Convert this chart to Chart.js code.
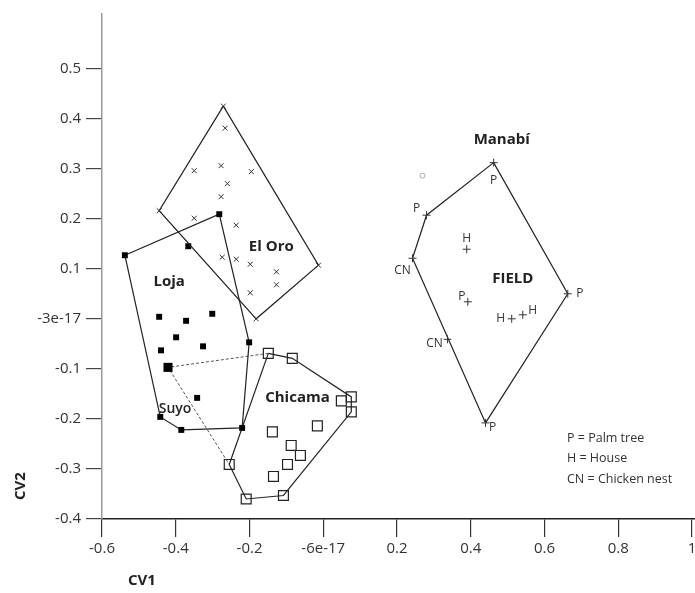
<!DOCTYPE html>
<html>
<head>
<meta charset="utf-8">
<script src="https://cdn.jsdelivr.net/npm/chart.js@4.4.0/dist/chart.umd.min.js"></script>
<style>
  body { margin: 0; background: #fff; }
  #wrap { width: 695px; height: 593px; }
</style>
</head>
<body>
<div id="wrap"><canvas id="cv"></canvas></div>
<script>
// CV scores, one pair of arrays per group
const elOroX = [-0.271, -0.266, -0.350, -0.277, -0.195, -0.260, -0.277, -0.445, -0.350, -0.236, -0.274, -0.236, -0.198, -0.127, -0.127, -0.198, -0.013, -0.182];
const elOroY = [0.425, 0.381, 0.296, 0.306, 0.294, 0.270, 0.244, 0.216, 0.201, 0.187, 0.123, 0.119, 0.109, 0.094, 0.068, 0.052, 0.107, 0.000];
const elOroHull = [0, 16, 17, 7, 0];

const lojaX = [-0.282, -0.366, -0.538, -0.445, -0.372, -0.301, -0.399, -0.326, -0.440, -0.201, -0.342, -0.442, -0.385, -0.220];
const lojaY = [0.209, 0.145, 0.127, 0.004, -0.004, 0.010, -0.037, -0.055, -0.063, -0.047, -0.158, -0.196, -0.222, -0.218];
const lojaHull = [2, 0, 9, 13, 12, 11, 2];

const suyoX = [-0.421];
const suyoY = [-0.097];

const chicamaX = [-0.149, -0.084, 0.076, 0.049, 0.076, -0.016, -0.138, -0.087, -0.062, -0.097, -0.135, -0.108, -0.209, -0.255];
const chicamaY = [-0.069, -0.079, -0.156, -0.164, -0.186, -0.214, -0.226, -0.253, -0.273, -0.291, -0.315, -0.353, -0.360, -0.291];
const chicamaHull = [0, 1, 2, 4, 11, 12, 13, 0];

const manabiX = [0.462, 0.280, 0.389, 0.242, 0.392, 0.663, 0.511, 0.541, 0.337, 0.440];
const manabiY = [0.312, 0.207, 0.139, 0.121, 0.034, 0.050, 0.000, 0.008, -0.041, -0.208];
const manabiTags = ['P', 'P', 'H', 'CN', 'P', 'P', 'H', 'H', 'CN', 'P'];
const manabiHull = [0, 5, 9, 3, 1, 0];

const otherX = [0.269];
const otherY = [0.286];

const xTickValues = [-0.6, -0.4, -0.2, 0, 0.2, 0.4, 0.6, 0.8, 1];
const xTickLabels = ['-0.6', '-0.4', '-0.2', '-6e-17', '0.2', '0.4', '0.6', '0.8', '1'];
const yTickValues = [-0.4, -0.3, -0.2, -0.1, 0, 0.1, 0.2, 0.3, 0.4, 0.5];
const yTickLabels = ['-0.4', '-0.3', '-0.2', '-0.1', '-3e-17', '0.1', '0.2', '0.3', '0.4', '0.5'];

const groupNames = ['Manabí', 'El Oro', 'Loja', 'Chicama', 'Suyo', 'FIELD'];
const groupLabelX = [0.484, -0.141, -0.418, -0.070, -0.402, 0.514];
const groupLabelY = [0.357, 0.143, 0.074, -0.158, -0.180, 0.080];

const keyLines = ['P = Palm tree', 'H = House', 'CN = Chicken nest'];

// pixel nudges for the P/H/CN tags next to each Manabí point
const tagOffsets = [[0, 18], [-10, -7], [0, -11], [-10, 12], [-6, -5], [12, 0], [-11, 0], [10, -4], [-13, 4], [7, 5]];

const FONT = '"Open Sans", "Liberation Sans", sans-serif';

function pts(xs, ys) { return xs.map((x, i) => ({ x: x, y: ys[i] })); }
function ring(xs, ys, idx) { return idx.map(i => ({ x: xs[i], y: ys[i] })); }

function hull(data) {
    return { data, showLine: true, pointRadius: 0, borderColor: '#222', borderWidth: 1.2, fill: false, tension: 0 };
}

const annotate = {
    id: 'annotate',
    afterDatasetsDraw(chart) {
        const { ctx, scales: { x, y } } = chart;
        ctx.save();
        ctx.textAlign = 'center';
        ctx.textBaseline = 'middle';
        ctx.fillStyle = '#222';
        groupNames.forEach((name, i) => {
            ctx.font = (name === 'Suyo' ? '600 14px ' : 'bold 15px ') + FONT;
            ctx.fillText(name, x.getPixelForValue(groupLabelX[i]), y.getPixelForValue(groupLabelY[i]));
        });

        ctx.font = '12px ' + FONT;
        ctx.fillStyle = '#333';
        manabiTags.forEach((t, i) => {
            ctx.fillText(t, x.getPixelForValue(manabiX[i]) + tagOffsets[i][0], y.getPixelForValue(manabiY[i]) + tagOffsets[i][1]);
        });

        ctx.textAlign = 'left';
        ctx.font = '12.5px ' + FONT;
        keyLines.forEach((t, i) => ctx.fillText(t, 567, 438 + i * 20.5));

        // axis titles sit in the corner, not centred
        ctx.font = 'bold 15px ' + FONT;
        ctx.fillStyle = '#222';
        ctx.fillText('CV1', 128, 581);
        ctx.translate(21, 486);
        ctx.rotate(-Math.PI / 2);
        ctx.textAlign = 'center';
        ctx.fillText('CV2', 0, 0);
        ctx.restore();
    }
};

new Chart(document.getElementById('cv'), {
    type: 'scatter',
    data: {
        datasets: [
            { data: pts(elOroX, elOroY), pointStyle: 'crossRot', pointRadius: 3.5, borderColor: '#333', borderWidth: 1 },
            hull(ring(elOroX, elOroY, elOroHull)),
            { data: pts(lojaX, lojaY), pointStyle: 'rect', pointRadius: 4.2, backgroundColor: '#000', borderColor: '#000', borderWidth: 0 },
            hull(ring(lojaX, lojaY, lojaHull)),
            { data: pts(suyoX, suyoY), pointStyle: 'rect', pointRadius: 6.4, backgroundColor: '#000', borderColor: '#000', borderWidth: 0 },
            {
                data: [{ x: chicamaX[0], y: chicamaY[0] }, { x: suyoX[0], y: suyoY[0] }, { x: chicamaX[13], y: chicamaY[13] }],
                showLine: true, pointRadius: 0, borderColor: '#555', borderWidth: 1, borderDash: [3, 2], fill: false
            },
            { data: pts(chicamaX, chicamaY), pointStyle: 'rect', pointRadius: 7, backgroundColor: 'rgba(255,255,255,0)', borderColor: '#222', borderWidth: 1.2 },
            hull(ring(chicamaX, chicamaY, chicamaHull)),
            { data: pts(manabiX, manabiY), pointStyle: 'cross', pointRadius: 4, borderColor: '#333', borderWidth: 1 },
            hull(ring(manabiX, manabiY, manabiHull)),
            { data: pts(otherX, otherY), pointStyle: 'circle', pointRadius: 2.5, backgroundColor: '#fff', borderColor: '#aaa', borderWidth: 1 }
        ]
    },
    options: {
        responsive: true,
        maintainAspectRatio: false,
        animation: false,
        layout: { autoPadding: false, padding: { top: 10, right: 0, left: 0, bottom: 0 } },
        plugins: { legend: { display: false }, tooltip: { enabled: false } },
        scales: {
            x: {
                type: 'linear', min: -0.6, max: 1.008,
                afterBuildTicks: s => { s.ticks = xTickValues.map(v => ({ value: v })); },
                afterFit: s => { s.height = 74; s.paddingLeft = 0; s.paddingRight = 0; },
                grid: { drawOnChartArea: false, drawTicks: true, tickLength: 18, color: '#333', lineWidth: 1.2 },
                border: { display: true, color: '#222', width: 1.5 },
                ticks: {
                    autoSkip: false, maxRotation: 0, padding: 3, color: '#333',
                    font: { family: FONT, size: 15 },
                    callback: v => xTickLabels[xTickValues.indexOf(v)]
                }
            },
            y: {
                type: 'linear', min: -0.4, max: 0.609,
                afterBuildTicks: s => { s.ticks = yTickValues.map(v => ({ value: v })); },
                afterFit: s => { s.width = 102; },
                grid: { drawOnChartArea: false, drawTicks: true, tickLength: 16, color: '#444', lineWidth: 1.2 },
                border: { display: true, color: '#999', width: 1.5 },
                ticks: {
                    autoSkip: false, padding: 5, color: '#333',
                    font: { family: FONT, size: 15 },
                    callback: v => yTickLabels[yTickValues.indexOf(v)]
                }
            }
        }
    },
    plugins: [annotate]
});
</script>
</body>
</html>
